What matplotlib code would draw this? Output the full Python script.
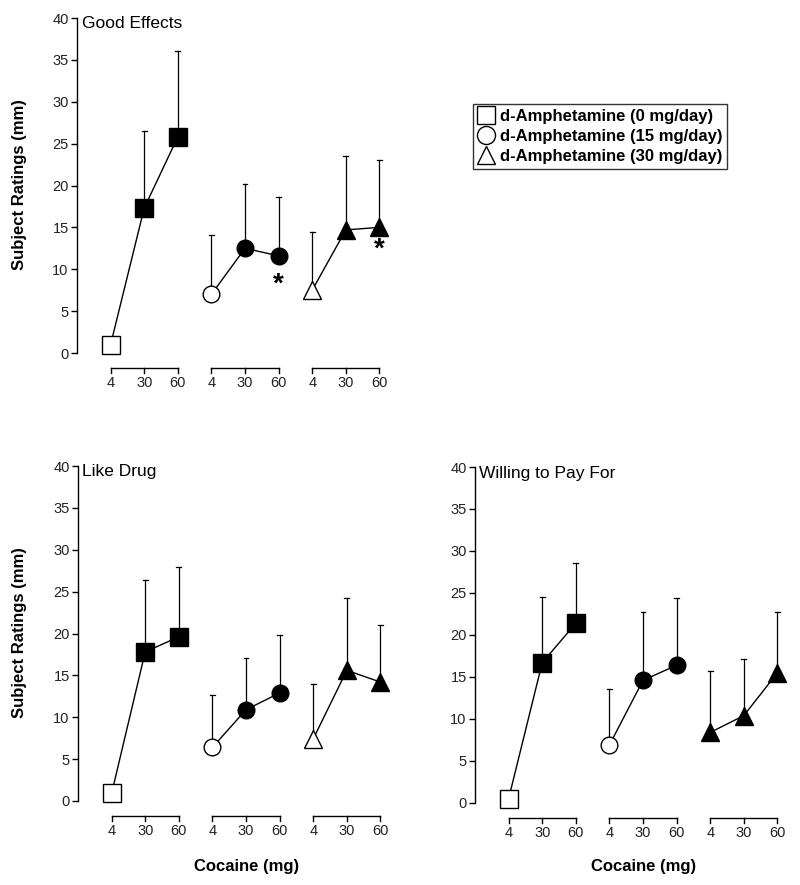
import matplotlib
matplotlib.use("Agg")
import matplotlib.pyplot as plt
from matplotlib.lines import Line2D

plt.rcParams['font.family'] = ['Liberation Sans', 'DejaVu Sans']

# ---------------- data ----------------
doses = ['4', '30', '60']
groups = ['d-Amphetamine (0 mg/day)', 'd-Amphetamine (15 mg/day)', 'd-Amphetamine (30 mg/day)']
group_markers = ['s', 'o', '^']

panel_titles = ['Good Effects', 'Like Drug', 'Willing to Pay For']

good_means = [[1.0, 17.3, 25.8], [7.0, 12.5, 11.6], [7.5, 14.7, 15.0]]
good_sem = [[0.0, 9.2, 10.3], [7.1, 7.7, 7.0], [7.0, 8.8, 8.1]]
good_open = [[True, False, False], [True, False, False], [True, False, False]]
good_sig = [[False, False, False], [False, False, True], [False, False, True]]

like_means = [[0.9, 17.8, 19.6], [6.4, 10.9, 12.9], [7.4, 15.6, 14.2]]
like_sem = [[0.0, 8.6, 8.4], [6.3, 6.2, 6.9], [6.6, 8.6, 6.8]]
like_open = [[True, False, False], [True, False, False], [True, False, False]]
like_sig = [[False] * 3, [False] * 3, [False] * 3]

pay_means = [[0.5, 16.7, 21.4], [6.9, 14.6, 16.4], [8.4, 10.4, 15.5]]
pay_sem = [[0.0, 7.8, 7.2], [6.7, 8.1, 8.0], [7.3, 6.8, 7.2]]
pay_open = [[True, False, False], [True, False, False], [False, False, False]]
pay_sig = [[False] * 3, [False] * 3, [False] * 3]

yticks = [0, 5, 10, 15, 20, 25, 30, 35, 40]
ylabel = 'Subject Ratings (mm)'
xlabel = 'Cocaine (mg)'

# ---------------- layout ----------------
W, H = 800, 885
fig = plt.figure(figsize=(W / 100, H / 100), dpi=100)


def px_axes(left, top, width, height):
    return fig.add_axes([left / W, 1 - (top + height) / H, width / W, height / H])


PX_PER_IDX = 33.6
XMIN, XMAX = -1.0, 8.6
MARKER_SIZES = [13.5, 12, 13.5]
STAR_OFFSETS = [22, 22, 17]
TICK_COLOR = '#222222'


def draw_panel(ax, means, sems, opens, sigs):
    ax.set_xlim(XMIN, XMAX)
    ax.set_ylim(0, 40)
    for s in ['top', 'right', 'bottom']:
        ax.spines[s].set_visible(False)
    ax.spines['left'].set_linewidth(1.0)
    ax.set_yticks(yticks)
    ax.set_yticklabels([str(v) for v in yticks], fontsize=10.5, color=TICK_COLOR)
    ax.tick_params(axis='y', direction='out', length=4, width=1, pad=2)
    ax.set_xticks([])
    ax.patch.set_alpha(0)

    ypx = 335 / 40.0  # pixels per unit
    seg_y = -15 / ypx
    tick_end = -20 / ypx
    lab_y = -23 / ypx

    for g in range(3):
        xs = [g * 3 + i for i in range(3)]
        m = means[g]
        e = sems[g]
        for x, mv, ev in zip(xs, m, e):
            if ev > 0:
                ax.plot([x, x], [mv, mv + ev], color='black', lw=0.9, zorder=2)
                ax.plot([x - 0.07, x + 0.07], [mv + ev, mv + ev], color='black', lw=0.9, zorder=2)
        ax.plot(xs, m, color='black', lw=1.0, zorder=3)
        for x, mv, op in zip(xs, m, opens[g]):
            ax.plot([x], [mv], marker=group_markers[g], ms=MARKER_SIZES[g],
                    mfc='white' if op else 'black', mec='black', mew=1.0,
                    ls='none', zorder=4, clip_on=False)
        for x, mv, sg in zip(xs, m, sigs[g]):
            if sg:
                ax.annotate('*', xy=(x, mv), xytext=(0, -STAR_OFFSETS[g] - 4),
                            textcoords='offset points',
                            ha='center', va='baseline', fontsize=20, fontweight='bold')
        ax.plot([xs[0], xs[-1]], [seg_y, seg_y], color='black', lw=1.0, clip_on=False)
        for x, d in zip(xs, doses):
            ax.plot([x, x], [seg_y, tick_end], color='black', lw=1.0, clip_on=False)
            ax.text(x, lab_y, d, ha='center', va='top', fontsize=10.5, color=TICK_COLOR)


ax1 = px_axes(77, 18, (XMAX - XMIN) * PX_PER_IDX, 335)
draw_panel(ax1, good_means, good_sem, good_open, good_sig)
fig.text(82 / W, 1 - 16 / H, panel_titles[0], ha='left', va='top', fontsize=12.5)

ax2 = px_axes(78, 466, (XMAX - XMIN) * PX_PER_IDX, 335)
draw_panel(ax2, like_means, like_sem, like_open, like_sig)
fig.text(82 / W, 1 - 464 / H, panel_titles[1], ha='left', va='top', fontsize=12.5)

ax3 = px_axes(475, 467, (XMAX - XMIN) * PX_PER_IDX, 336)
draw_panel(ax3, pay_means, pay_sem, pay_open, pay_sig)
fig.text(479 / W, 1 - 466 / H, panel_titles[2], ha='left', va='top', fontsize=12.5)

# axis labels
fig.text(20 / W, 1 - 185 / H, ylabel, rotation=90, ha='center', va='center',
         fontsize=12, fontweight='bold')
fig.text(20 / W, 1 - 633 / H, ylabel, rotation=90, ha='center', va='center',
         fontsize=12, fontweight='bold')
fig.text(247 / W, 1 - 866 / H, xlabel, ha='center', va='center', fontsize=12, fontweight='bold')
fig.text(644 / W, 1 - 866 / H, xlabel, ha='center', va='center', fontsize=12, fontweight='bold')

# legend
handles = [Line2D([], [], marker=mk, ms=13, mfc='white', mec='black', mew=1.0, ls='none')
           for mk in group_markers]
leg = fig.legend(handles, groups, loc='upper left', bbox_to_anchor=(473 / W, 1 - 104 / H),
                 frameon=True, fancybox=False, edgecolor='black', borderpad=0.3,
                 handlelength=1.0, handletextpad=0.3, labelspacing=0.3,
                 prop={'weight': 'bold', 'size': 12}, borderaxespad=0)
leg.get_frame().set_linewidth(1.0)

fig.savefig('out.png', dpi=100)
